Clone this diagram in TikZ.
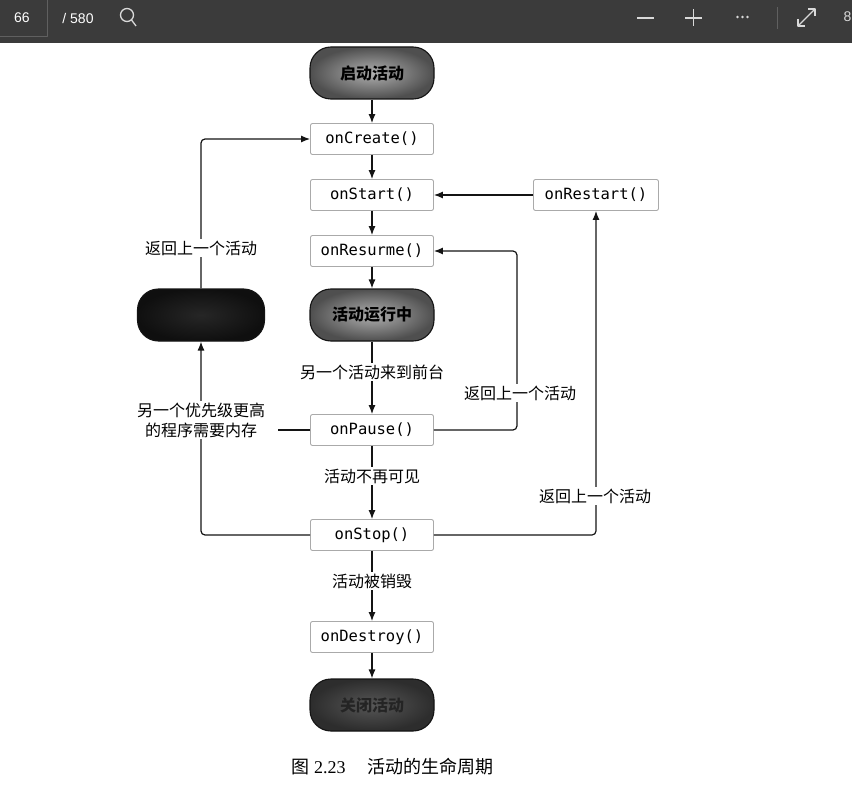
\documentclass[tikz,border=0pt]{standalone}
\usepackage{fontspec}
\setmainfont{Liberation Serif}
\setmonofont{DejaVu Sans Mono}
\newfontfamily\cjk{Noto Sans CJK SC}
\newfontfamily\uifont{Liberation Sans}
\usepackage{xcolor}
\usepackage{tikz}
\usetikzlibrary{arrows.meta,positioning,shadings}
\definecolor{barcolor}{RGB}{59, 59, 59}
\definecolor{baredge}{RGB}{96, 96, 96}
\definecolor{boxedge}{RGB}{170, 170, 170}
\definecolor{inkblack}{RGB}{20, 20, 20}

\begin{document}
\begin{tikzpicture}[x=1pt, y=-1pt, line join=round]
    % Styles
    \tikzstyle{stepbox} = [draw=boxedge, line width=0.9pt, fill=white, rounded corners=2pt, minimum width=123pt, minimum height=31pt, inner sep=0pt, font=\ttfamily\fontsize{15.5}{18}\selectfont]
    \tikzstyle{pill} = [draw=inkblack, line width=1.1pt, rounded corners=21pt, minimum width=124pt, minimum height=52pt, inner sep=0pt, font=\cjk\bfseries\fontsize{16}{19}\selectfont]
    \tikzstyle{note} = [fill=white, inner sep=2pt, align=center, font=\cjk\fontsize{16}{20}\selectfont]
    \tikzstyle{arrow} = [line width=1.2pt, color=inkblack, -{Latex[length=9pt, width=7pt]}]
    \tikzstyle{plain} = [line width=1.2pt, color=inkblack]
    \tikzstyle{icon} = [line width=1.3pt, color=white!85!black]

    \clip (0,0) rectangle (852,789);
    \fill[white] (0,0) rectangle (852,789);

    % Viewer toolbar
    \fill[barcolor] (0,0) rectangle (852,43);
    \draw[baredge, line width=1pt] (-2,37) -- (47,37) -- (47,-2);
    \node[font=\uifont\fontsize{14}{16}\selectfont, text=white] (pagenum) at (22,18) {66};
    \node[font=\uifont\fontsize{14}{16}\selectfont, text=white] (pagecount) at (78,18) {/ 580};
    \draw[icon] (127,15) circle (6.5);
    \draw[icon] (131.5,20) -- (136,26);
    \draw[icon] (637,18) -- (654,18);
    \draw[icon] (685,18) -- (702,18);
    \draw[icon] (693.5,9.5) -- (693.5,26.5);
    \foreach \dx in {737.5, 742.5, 747.5}
        \fill[white!85!black] (\dx,17) circle (1.3);
    \draw[baredge, line width=1pt] (777,7) -- (777,29);
    \draw[icon] (798,26) -- (815,9);
    \draw[icon] (808,9) -- (815,9) -- (815,16);
    \draw[icon] (798,19) -- (798,26) -- (805,26);
    \node[font=\uifont\fontsize{14}{16}\selectfont, text=white!85!black, anchor=east, inner sep=0.5pt] (cut) at (852,17) {8};

    % Lifecycle states
    \node[pill, inner color=gray!62, outer color=gray!62!black] (launch) at (372,73) {启动活动};
    \node[stepbox] (onCreate) at (372,139) {onCreate()};
    \node[stepbox] (onStart) at (372,195) {onStart()};
    \node[stepbox] (onResume) at (372,251) {onResurme()};
    \node[pill, inner color=gray!62, outer color=gray!62!black] (running) at (372,315) {活动运行中};
    \node[stepbox] (onPause) at (372,430) {onPause()};
    \node[stepbox] (onStop) at (372,535) {onStop()};
    \node[stepbox] (onDestroy) at (372,637) {onDestroy()};
    \node[pill, inner color=gray!68!black, outer color=gray!35!black, text=gray!28!black] (shutdown) at (372,705) {关闭活动};
    \node[pill, inner color=gray!30!black, outer color=gray!12!black, minimum width=127pt] (killed) at (201,315) {};
    \node[stepbox, minimum width=125pt] (onRestart) at (596,195) {onRestart()};

    % Main flow
    \draw[arrow] (launch) -- (onCreate);
    \draw[arrow] (onCreate) -- (onStart);
    \draw[arrow] (onStart) -- (onResume);
    \draw[arrow] (onResume) -- (running);
    \draw[arrow] (running) -- (onPause);
    \draw[arrow] (onPause) -- (onStop);
    \draw[arrow] (onStop) -- (onDestroy);
    \draw[arrow] (onDestroy) -- (shutdown);
    \draw[arrow] (onRestart) -- (onStart);

    % Return paths
    \draw[arrow, rounded corners=4pt] (killed.north) |- (onCreate.west);
    \draw[arrow, rounded corners=4pt] (onStop.west) -| (killed.south);
    \draw[arrow, rounded corners=4pt] (onPause.east) -- ++(83,0) |- (onResume.east);
    \draw[arrow, rounded corners=4pt] (onStop.east) -| (onRestart.south);

    % Labels
    \node[note] (toFront) at (372,372) {另一个活动来到前台};
    \node[note] (hidden) at (372,476) {活动不再可见};
    \node[note] (destroyed) at (372,581) {活动被销毁};
    \node[note] (backLeft) at (201,248) {返回上一个活动};
    \node[note] (lowMem) at (201,420) {另一个优先级更高\\的程序需要内存};
    \node[note] (backMid) at (520,393) {返回上一个活动};
    \node[note] (backRight) at (595,496) {返回上一个活动};
    \draw[plain] (onPause.west) -- ++(-32,0);

    % Caption
    \node[font=\fontsize{18}{20}\selectfont, anchor=west] (caption) at (288,767) {{\cjk 图} 2.23\hspace{1.2em}{\cjk 活动的生命周期}};
\end{tikzpicture}
\end{document}
